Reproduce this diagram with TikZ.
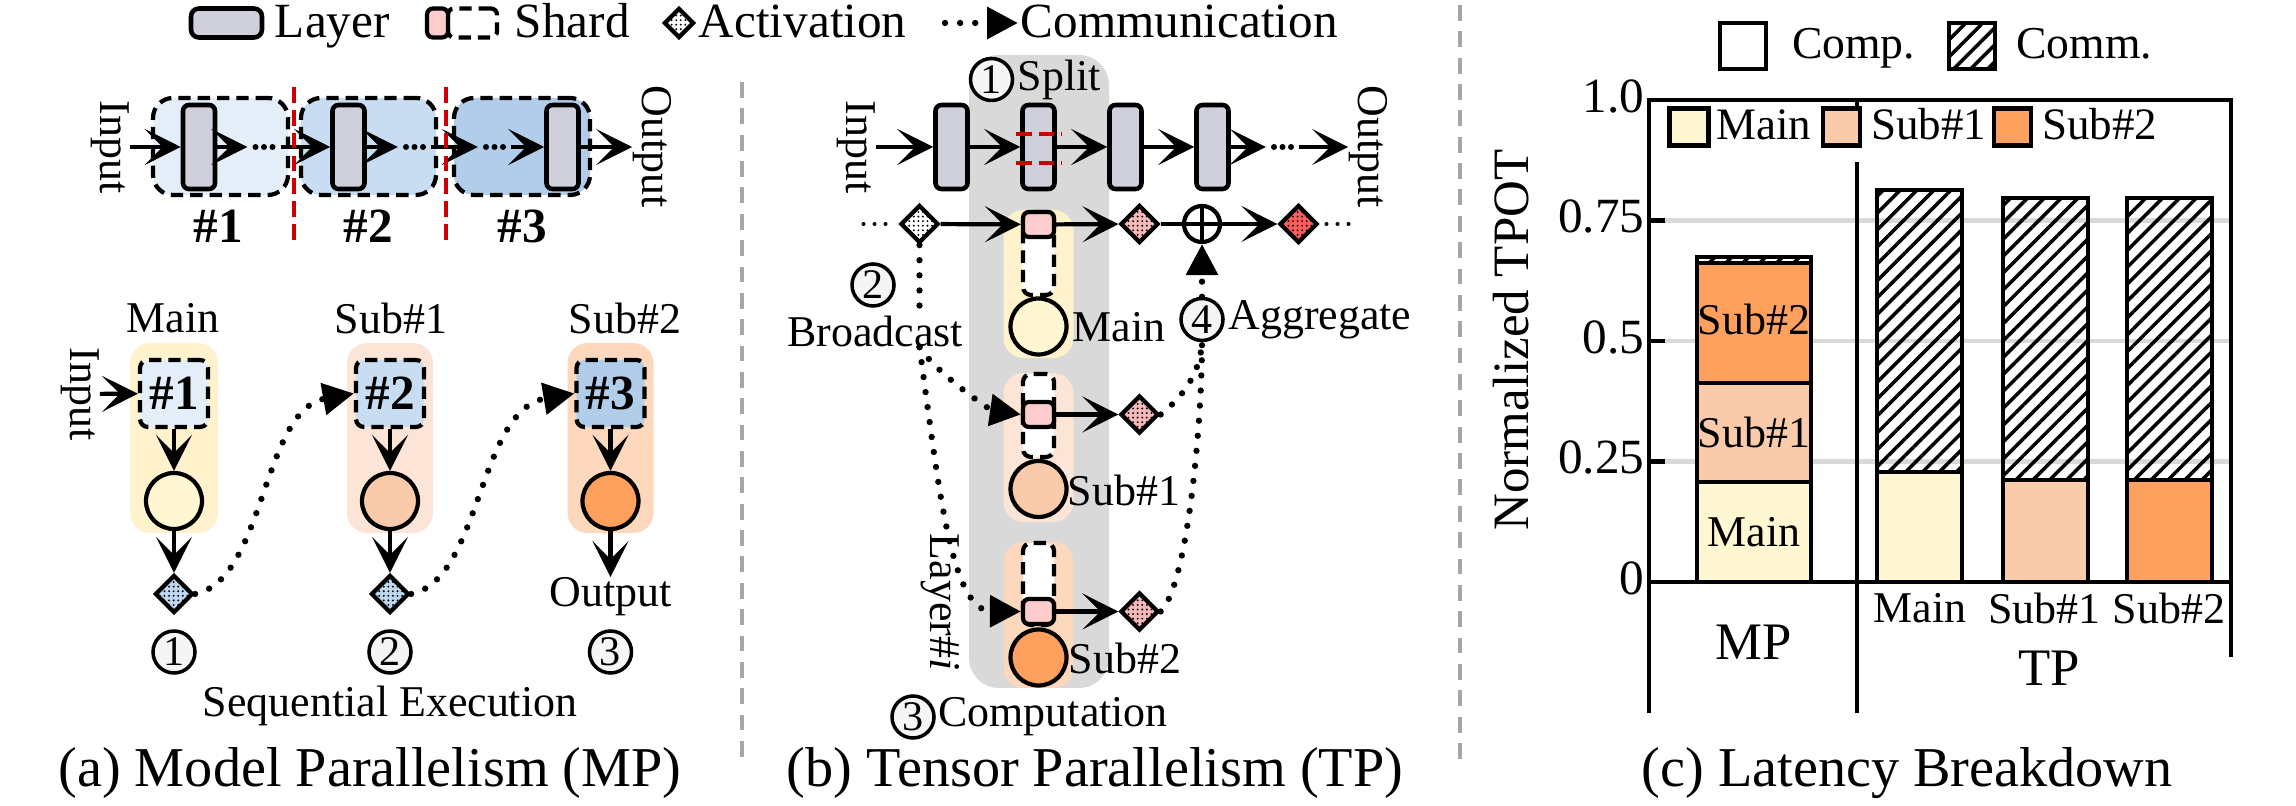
\documentclass[tikz,border=0pt]{standalone}
\usepackage{fontspec}
\setmainfont{Liberation Serif}
\usetikzlibrary{positioning,shapes.geometric,arrows.meta,patterns.meta}

\definecolor{layergray}{HTML}{CFD0DC}
\definecolor{shardpink}{HTML}{FFCCCC}
\definecolor{blueA}{HTML}{E3EEF9}
\definecolor{blueB}{HTML}{C8DDF1}
\definecolor{blueC}{HTML}{B1CDE9}
\definecolor{mainbg}{HTML}{FFF2CC}
\definecolor{subAbg}{HTML}{FCE4D6}
\definecolor{subBbg}{HTML}{FDD8BC}
\definecolor{mainc}{HTML}{FFF7D1}
\definecolor{subAc}{HTML}{F9CBAA}
\definecolor{subBc}{HTML}{FFA15E}
\definecolor{colgray}{HTML}{D9D9D9}
\definecolor{cutred}{HTML}{CC0000}
\definecolor{sepgray}{HTML}{A6A6A6}
\definecolor{actblue}{HTML}{BDD7EE}
\definecolor{actpink}{HTML}{F6B8B8}
\definecolor{actred}{HTML}{FF5C5C}

\newcommand{\fsCap}{\fontsize{16}{19}\selectfont}
\newcommand{\fsLeg}{\fontsize{14}{16}\selectfont}
\newcommand{\fsLbl}{\fontsize{12.5}{15}\selectfont}
\newcommand{\fsNum}{\fontsize{12}{14}\selectfont}
\newcommand{\fsHash}{\fontsize{14}{16}\selectfont\bfseries}

\begin{document}
\begin{tikzpicture}[x=0.1mm, y=-0.1mm, node distance=8.7mm]
\useasboundingbox (0,0) rectangle (2296,806);
\tikzstyle{layer} = [draw, line width=1.3pt, rounded corners=0.6mm, fill=layergray, minimum width=3.2mm, minimum height=8.4mm, inner sep=0pt]
\tikzstyle{stage} = [draw, line width=1.2pt, dash pattern=on 3.5pt off 2pt, rounded corners=2mm, inner sep=0pt]
\tikzstyle{shard} = [draw, line width=1.2pt, dash pattern=on 3.5pt off 2pt, rounded corners=0.8mm, fill=white, minimum width=3.1mm, inner sep=0pt]
\tikzstyle{piece} = [draw, line width=1.2pt, rounded corners=0.6mm, fill=shardpink, minimum width=3.1mm, minimum height=2.5mm, inner sep=0pt]
\tikzstyle{panel} = [rounded corners=2mm, inner sep=0pt]
\tikzstyle{devnode} = [circle, draw, line width=1.2pt, minimum size=5.6mm, inner sep=0pt]
\tikzstyle{actnode} = [diamond, draw, line width=1.2pt, minimum size=3.8mm, inner sep=0pt, pattern={Dots[radius=0.3pt, distance=1.3pt]}]
\tikzstyle{numc} = [circle, draw, line width=1pt, fill=gray!8, minimum size=4.2mm, inner sep=0pt, font=\fsNum]
\tikzstyle{dotgap} = [inner sep=0pt, minimum width=3.2mm, minimum height=1mm]
\tikzstyle{flow} = [line width=1.2pt, -{Stealth[length=3.6mm, width=3.6mm, inset=1.8mm]}]
\tikzstyle{comm} = [line width=1.8pt, line cap=round, dash pattern=on 0pt off 4.3pt, -{Triangle[length=3.1mm, width=3.1mm]}]
\tikzstyle{cutline} = [draw=cutred, line width=1.3pt, dash pattern=on 4.5pt off 2pt]
\tikzstyle{sepline} = [draw=sepgray, line width=0.9pt, dash pattern=on 4.5pt off 3pt]
\tikzstyle{lbl} = [font=\fsLbl, inner sep=0pt]
\tikzstyle{legtext} = [font=\fsLeg, inner sep=0pt, text height=9.5pt, text depth=2.5pt]
\tikzstyle{captxt} = [font=\fsCap, inner sep=0pt]
\tikzstyle{barbox} = [draw, line width=1.1pt]
\tikzstyle{hatch} = [pattern={Lines[angle=45, distance=3.4pt, line width=1pt]}]
\tikzstyle{legbox} = [draw, line width=1.3pt, inner sep=0pt]

% Legend
\node[layer, minimum width=7.1mm, minimum height=2.9mm, rounded corners=0.8mm] (lgLayer) at (226.5,23) {};
\node[legtext, right=1mm of lgLayer, yshift=-0.2mm] (lgLayerT) {Layer};
\node[shard, minimum width=4.9mm, minimum height=2.9mm, rounded corners=0.6mm] (lgShardD) at (472.5,23) {};
\node[piece, minimum width=2.1mm, minimum height=2.9mm] (lgShardP) at (437.5,23) {};
\node[legtext, right=1.5mm of lgShardD, yshift=-0.2mm] (lgShardT) {Shard};
\node[actnode, preaction={fill=white}, minimum size=3mm] (lgAct) at (679,23) {};
\node[legtext, right=0.2mm of lgAct, yshift=-0.2mm] (lgActT) {Activation};
\coordinate (lgC1) at (945,23);
\coordinate (lgC2) at (1018,23);
\draw[comm] (lgC1) -- (lgC2);
\node[legtext, right=0.2mm of lgC2, yshift=-0.2mm] (lgCommT) {Communication};

% (a) pipeline split into stages
\node[stage, fill=blueA, minimum width=13.5mm, minimum height=9.7mm] (stg1) at (220.5,146.5) {};
\node[stage, fill=blueB, minimum width=13.5mm, minimum height=9.7mm] (stg2) at (368.5,146.5) {};
\node[stage, fill=blueC, minimum width=13.6mm, minimum height=9.7mm] (stg3) at (522,146.5) {};
\node[layer] (la1) at (199,147) {};
\node[layer] (la2) at (348.5,147) {};
\node[layer] (la3) at (562.5,147) {};
\node[lbl, rotate=-90] (inA) at (110,147) {Input};
\node[lbl, rotate=-90] (outA) at (652,147) {Output};
\node[dotgap] (da1) at (264,147) {};
\node[dotgap] (da2) at (414.5,147) {};
\node[dotgap] (da3) at (494.5,147) {};
\draw[flow] (inA) -- (la1);
\draw[flow] (la1) -- (da1);
\draw[flow] (da1) -- (la2);
\draw[flow] (la2) -- (da2);
\draw[flow] (da2) -- (da3);
\draw[flow] (da3) -- (la3);
\draw[flow] (la3) -- (outA);
\draw[cutline] (294,87) -- (294,244);
\draw[cutline] (446,87) -- (446,244);
\node[font=\fsHash, inner sep=0pt] (hA1) at (218,226) {\#1};
\node[font=\fsHash, inner sep=0pt] (hA2) at (368,226) {\#2};
\node[font=\fsHash, inner sep=0pt] (hA3) at (522,226) {\#3};

% (a) sequential execution on devices
\node[panel, fill=mainbg, minimum width=8.8mm, minimum height=19mm] (pnM) at (174,438) {};
\node[panel, fill=subAbg, minimum width=8.6mm, minimum height=19mm] (pnS1) at (390,438) {};
\node[panel, fill=subBbg, minimum width=8.6mm, minimum height=19mm] (pnS2) at (610.5,438) {};
\node[lbl] (tM) at (173,318) {Main};
\node[lbl] (tS1) at (391,318) {Sub\#1};
\node[lbl] (tS2) at (625,318) {Sub\#2};
\node[shard, fill=blueA, minimum width=6.8mm, minimum height=6.7mm, font=\fsHash] (sa1) at (174,393.5) {\#1};
\node[shard, fill=blueB, minimum width=6.8mm, minimum height=6.7mm, font=\fsHash] (sa2) at (390,393.5) {\#2};
\node[shard, fill=blueC, minimum width=6.8mm, minimum height=6.7mm, font=\fsHash] (sa3) at (610.5,393.5) {\#3};
\node[devnode, fill=mainc] (ca1) at (174,501) {};
\node[devnode, fill=subAc] (ca2) at (390,501) {};
\node[devnode, fill=subBc] (ca3) at (610.5,501) {};
\node[actnode, preaction={fill=actblue}] (aa1) at (174,594) {};
\node[actnode, preaction={fill=actblue}] (aa2) at (390,594) {};
\node[lbl] (outB) at (610.5,597) {Output};
\node[lbl, rotate=-90] (inB) at (80,394) {Input};
\draw[flow] (inB) -- (sa1);
\draw[flow] (sa1) -- (ca1);
\draw[flow] (ca1) -- (aa1);
\draw[flow] (sa2) -- (ca2);
\draw[flow] (ca2) -- (aa2);
\draw[flow] (sa3) -- (ca3);
\draw[flow] (ca3) -- (outB);
\draw[comm] (aa1.east) .. controls (265,580) and (262,410) .. (sa2.west);
\draw[comm] (aa2.east) .. controls (481,580) and (478,410) .. (sa3.west);
\node[numc] (na1) at (174,652) {1};
\node[numc] (na2) at (390,652) {2};
\node[numc] (na3) at (610.5,652) {3};
\node[lbl] (seqA) at (390,706) {Sequential Execution};
\node[captxt] (capA) at (370,773) {(a) Model Parallelism (MP)};

% separators
\draw[sepline] (742,82) -- (742,761);
\draw[sepline] (1460,5) -- (1460,763);

% (b) tensor parallel layer
\node[panel, fill=colgray, minimum width=14mm, minimum height=63.3mm, rounded corners=3mm] (colL) at (1039,371.5) {};
\node[panel, fill=mainbg, minimum width=7mm, minimum height=14.8mm] (pnBM) at (1038.5,284) {};
\node[panel, fill=subAbg, minimum width=7mm, minimum height=14.9mm] (pnB1) at (1038.5,447.5) {};
\node[panel, fill=subBbg, minimum width=7mm, minimum height=14.6mm] (pnB2) at (1038.5,615) {};
\node[lbl, rotate=-90] (inC) at (856,147) {Input};
\node[layer] (lb1) at (951.5,147) {};
\node[layer, right of=lb1] (lb2) {};
\node[layer, right of=lb2] (lb3) {};
\node[layer, right of=lb3] (lb4) {};
\node[dotgap] (db1) at (1282.5,147) {};
\node[lbl, rotate=-90] (outC) at (1368,147) {Output};
\draw[flow] (inC) -- (lb1);
\draw[flow] (lb1) -- (lb2);
\draw[flow] (lb2) -- (lb3);
\draw[flow] (lb3) -- (lb4);
\draw[flow] (lb4) -- (db1);
\draw[flow] (db1) -- (outC);
\draw[cutline] ([xshift=-0.45mm, yshift=1.3mm]lb2.west) -- ([xshift=0.55mm, yshift=1.3mm]lb2.east);
\draw[cutline] ([xshift=-0.45mm, yshift=-1.6mm]lb2.west) -- ([xshift=0.55mm, yshift=-1.6mm]lb2.east);
\node[numc] (nb1) at (991.5,79.5) {1};
\node[lbl, right=0.3mm of nb1] (tSplit) {Split};

% activation row
\node[dotgap, minimum width=3mm] (db2) at (874.5,224) {};
\node[actnode, preaction={fill=white}] (ab1) at (919.5,224) {};
\node[shard, minimum height=8.3mm] (sb0) at (1038.5,253.5) {};
\node[piece] (pb0) at (1038.5,224.5) {};
\node[actnode, preaction={fill=actpink}] (ab2) at (1139.5,224) {};
\node[circle, draw, line width=1.2pt, minimum size=3.6mm, inner sep=0pt] (plus) at (1202,224) {};
\draw[line width=1.2pt] (plus.north) -- (plus.south) (plus.west) -- (plus.east);
\node[actnode, preaction={fill=actred}] (ab3) at (1298.5,224) {};
\node[dotgap, minimum width=3mm] (db3) at (1337.5,224) {};
\draw[flow] (ab1) -- (pb0);
\draw[flow] (pb0) -- (ab2);
\draw[line width=1.2pt] (ab2) -- (plus);
\draw[flow] (plus) -- (ab3);
\node[devnode, fill=mainc] (cb0) at (1038.5,326.5) {};
\node[lbl] (tb0) at (1119,327) {Main};

\node[shard, minimum height=8.3mm] (sb1) at (1038.5,415.5) {};
\node[piece] (pb1) at (1038.5,414.5) {};
\node[actnode, preaction={fill=actpink}] (ab4) at (1139.5,414.5) {};
\draw[flow] (pb1) -- (ab4);
\node[devnode, fill=subAc] (cb1) at (1038.5,489) {};
\node[lbl] (tb1) at (1124,490) {Sub\#1};

\node[shard, minimum height=8.2mm] (sb2) at (1038.5,584) {};
\node[piece] (pb2) at (1038.5,611.5) {};
\node[actnode, preaction={fill=actpink}] (ab5) at (1139.5,611.5) {};
\draw[flow] (pb2) -- (ab5);
\node[devnode, fill=subBc] (cb2) at (1038.5,657.5) {};
\node[lbl] (tb2) at (1125,658) {Sub\#2};
\node[lbl, rotate=-90] (tLayer) at (940,602) {Layer\#\textit{i}};

% dots between arrows
\foreach \n in {da1,da2,da3,db1} {
  \foreach \k in {-1,0,1} \fill ([xshift=\k*0.85mm]\n.center) circle (0.3mm);
}
\foreach \n in {db2,db3} {
  \foreach \k in {-1,0,1} \fill ([xshift=\k*1.1mm]\n.center) circle (0.2mm);
}

% broadcast
\node[numc] (nb2) at (873,285) {2};
\node[lbl, fill=white] (tBcast) at (875,331) {Broadcast};
\coordinate (bcTop) at (ab1.south |- tBcast.north);
\coordinate (bcBot) at (ab1.south |- tBcast.south);
\draw[comm, -] (ab1.south) -- (bcTop);
\draw[comm] (bcBot) .. controls (935,372) and (990,410) .. (pb1.west);
\draw[comm] (bcBot) .. controls (938,480) and (950,611) .. (pb2.west);

% aggregate
\node[numc] (nb4) at (1202,319.5) {4};
\node[lbl, right=0.3mm of nb4] (tAgg) {Aggregate};
\draw[comm, -] (ab4.east) .. controls (1185,395) and (1200,372) .. (nb4.south);
\draw[comm, -] (ab5.east) .. controls (1188,585) and (1202,420) .. (nb4.south);
\draw[comm] (nb4.north) -- (plus.south);

\node[numc] (nb3) at (913,717) {3};
\node[lbl, right=0.2mm of nb3] (tComp) {Computation};
\node[captxt] (capB) at (1095,773) {(b) Tensor Parallelism (TP)};

% (c) latency breakdown
\node[legbox, minimum size=4.6mm] (lgComp) at (1743,46) {};
\node[legtext, font=\fontsize{13}{15}\selectfont, right=2.3mm of lgComp] (tCompL) {Comp.};
\node[legbox, hatch, minimum size=4.6mm] (lgComm) at (1972,46) {};
\node[legtext, font=\fontsize{13}{15}\selectfont, right=1.9mm of lgComm] (tCommL) {Comm.};
\node[font=\fontsize{14.5}{17}\selectfont, inner sep=0pt, rotate=90] (ylab) at (1511,340) {Normalized TPOT};
\begin{scope}[shift={(0,582)}, y=48.2mm]
  \foreach \v in {0.25,0.5,0.75} \draw[draw=colgray, line width=1.2pt] (1649,\v) -- (2231,\v);
  % MP bar
  \draw[barbox, fill=mainc] (1697,0) rectangle (1811,0.207);
  \draw[barbox, fill=subAc] (1697,0.207) rectangle (1811,0.413);
  \draw[barbox, fill=subBc] (1697,0.413) rectangle (1811,0.662);
  \draw[barbox, hatch] (1697,0.662) rectangle (1811,0.675);
  % TP bars
  \foreach \x/\c/\t/\h in {1877/mainc/0.228/0.813, 2003/subAc/0.212/0.797, 2127/subBc/0.212/0.797} {
    \draw[barbox, fill=\c] (\x,0) rectangle (\x+85,\t);
    \draw[barbox, hatch] (\x,\t) rectangle (\x+85,\h);
  }
  % frame
  \draw[line width=1.1pt] (1649,-0.272) -- (1649,1) -- (2231,1) -- (2231,-0.156);
  \draw[line width=1.4pt] (1649,0) -- (2231,0);
  \draw[line width=1.1pt] (1857,-0.272) -- (1857,0.871);
  \draw[line width=1.1pt] (1857,1) -- (1857,0.985);
  \foreach \v/\lab [count=\i] in {0/0, 0.25/0.25, 0.5/0.5, 0.75/0.75, 1/1.0} {
    \draw[line width=1.4pt] (1649,\v) -- (1665,\v);
    \node[legtext, anchor=east] (tick\i) at (1645,\v) {\lab};
  }
  % inner legend
  \node[legbox, fill=mainc, minimum width=3.9mm, minimum height=3.7mm] (lgMain) at (1689,0.944) {};
  \node[legtext, font=\fontsize{12.8}{15}\selectfont, right=0.5mm of lgMain] (tlgMain) {Main};
  \node[legbox, fill=subAc, minimum width=3.7mm, minimum height=3.7mm] (lgSub1) at (1841.5,0.944) {};
  \node[legtext, font=\fontsize{12.8}{15}\selectfont, right=0.8mm of lgSub1] (tlgSub1) {Sub\#1};
  \node[legbox, fill=subBc, minimum width=3.7mm, minimum height=3.7mm] (lgSub2) at (2012.5,0.944) {};
  \node[legtext, font=\fontsize{12.8}{15}\selectfont, right=0.8mm of lgSub2] (tlgSub2) {Sub\#2};
  % bar labels
  \node[lbl] (bM) at (1754,0.104) {Main};
  \node[lbl] (bS1) at (1754,0.311) {Sub\#1};
  \node[lbl] (bS2) at (1754,0.544) {Sub\#2};
  \node[lbl] (xM) at (1920,-0.054) {Main};
  \node[lbl] (xS1) at (2044.5,-0.054) {Sub\#1};
  \node[lbl] (xS2) at (2169,-0.054) {Sub\#2};
  \node[font=\fontsize{15}{17}\selectfont, inner sep=0pt] (xMP) at (1754,-0.124) {MP};
  \node[font=\fontsize{15}{17}\selectfont, inner sep=0pt] (xTP) at (2049,-0.178) {TP};
\end{scope}
\node[captxt] (capC) at (1907,773) {(c) Latency Breakdown};
\end{tikzpicture}
\end{document}
